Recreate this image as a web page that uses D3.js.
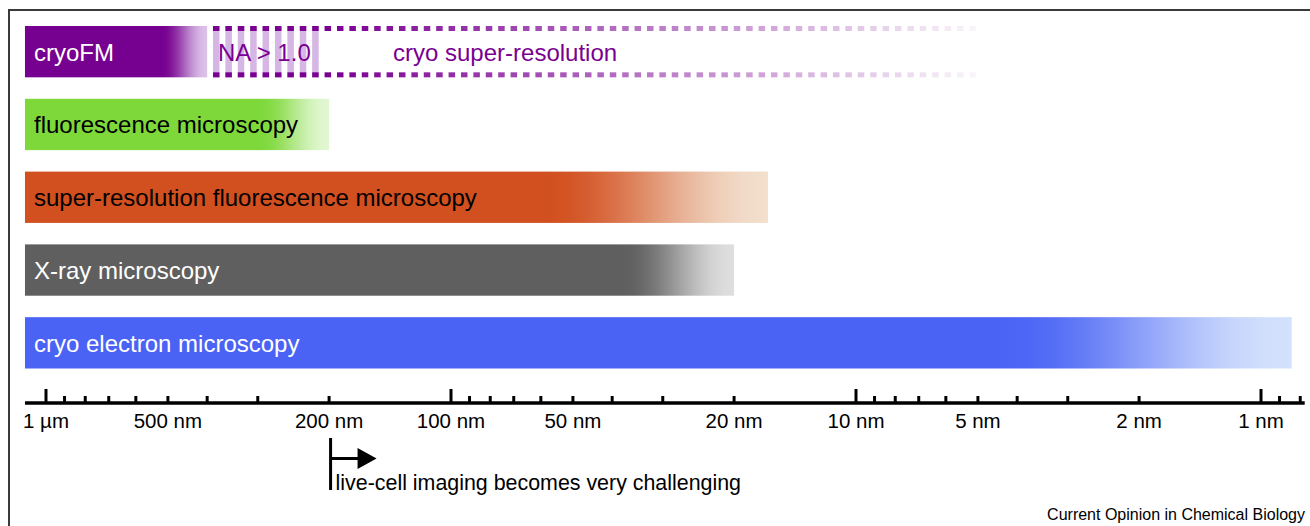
<!DOCTYPE html>
<html>
<head>
<meta charset="utf-8">
<script src="https://cdn.jsdelivr.net/npm/d3@7"></script>
<style>
  html, body { margin: 0; padding: 0; background: #fff; }
  svg { display: block; font-family: "Liberation Sans", Arial, Helvetica, sans-serif; }
</style>
</head>
<body>
<svg id="chart" width="1310" height="526"></svg>
<script>
// ---- data (lengths in nm) ----
const techniques = ["cryoFM", "fluorescence microscopy", "super-resolution fluorescence microscopy", "X-ray microscopy", "cryo electron microscopy"];
const resolutionLimit = [400, 200, 16.5, 20, 0.84];   // where each bar ends
const fadeStart = [520, 300, 60, 38, 4.5];             // where the colour begins to fade
const barColors = ["#76008f", "#7ed83a", "#d24f1f", "#5f5f5f", "#4a63f5"];
const fadeColors = ["#dcc2e8", "#e2f7d2", "#f2dfcc", "#dedede", "#d3e1fc"];
const labelColors = ["#ffffff", "#000000", "#000000", "#ffffff", "#ffffff"];

const cryoSRRange = [387, 5];      // dashed "cryo super-resolution" region
const naRange = [387, 210];        // striped "NA > 1.0" region
const axisRange = [1127, 0.78];
const majorTicks = [1000, 100, 10, 1];
const minorTicks = [900, 800, 700, 600, 500, 400, 300, 200,
                    90, 80, 70, 60, 50, 40, 30, 20,
                    9, 8, 7, 6, 5, 4, 3, 2, 0.9, 0.8];
const tickLabelValues = [1000, 500, 200, 100, 50, 20, 10, 5, 2, 1];
const tickLabels = ["1 µm", "500 nm", "200 nm", "100 nm", "50 nm", "20 nm", "10 nm", "5 nm", "2 nm", "1 nm"];
const liveCellLimit = 200;

const svg = d3.select("#chart");
const x = d3.scaleLog().domain([1000, 1]).range([46, 1261]);
const y = d3.scaleBand().domain(techniques).range([26, 368.5]).paddingInner(0.295).paddingOuter(0);

// frame
svg.append("path").attr("d", "M9,526V10H1310").attr("fill", "none").attr("stroke", "#3a3a3a").attr("stroke-width", 2);

const defs = svg.append("defs");
techniques.forEach((t, i) => {
  const g = defs.append("linearGradient").attr("id", "grad" + i)
    .attr("gradientUnits", "userSpaceOnUse")
    .attr("x1", x(fadeStart[i])).attr("x2", x(resolutionLimit[i]))
    .attr("y1", 0).attr("y2", 0);
  const interp = d3.interpolateRgb(barColors[i], fadeColors[i]);
  d3.range(0, 1.0001, 0.1).forEach(t => {
    g.append("stop").attr("offset", t).attr("stop-color", interp(d3.easeSinInOut(t)));
  });
});

// bars
svg.selectAll("rect.bar").data(techniques).enter().append("rect")
  .attr("class", "bar")
  .attr("x", x(axisRange[0]))
  .attr("y", d => y(d))
  .attr("width", (d, i) => x(resolutionLimit[i]) - x(axisRange[0]))
  .attr("height", y.bandwidth())
  .attr("fill", (d, i) => "url(#grad" + i + ")");

svg.selectAll("text.barlabel").data(techniques).enter().append("text")
  .attr("class", "barlabel")
  .attr("x", 34)
  .attr("y", d => y(d) + y.bandwidth() / 2 + 9)
  .attr("font-size", 24)
  .attr("fill", (d, i) => labelColors[i])
  .text(d => d);

// cryo super-resolution dashed region
const y0 = y(techniques[0]);
const bh = y.bandwidth();
const step = 12.4, sq = 6.5;
const x0 = x(cryoSRRange[0]), x1 = x(cryoSRRange[1]);
const naEnd = x(naRange[1]);
const cols = d3.range(x0, x1, step);
// stripes
svg.selectAll("rect.stripe").data(cols.filter(c => c + sq <= naEnd + 1)).enter().append("rect")
  .attr("x", d => d).attr("y", y0).attr("width", sq).attr("height", bh)
  .attr("fill", "#d6b6e4");
const fadeOpacity = d3.scaleLinear().domain([330, x1]).range([1, 0.03]).clamp(true);
[y0, y0 + bh - 5].forEach(yy => {
  svg.selectAll(null).data(cols).enter().append("rect")
    .attr("x", d => d).attr("y", yy).attr("width", sq).attr("height", 5)
    .attr("fill", "#7a0092")
    .attr("fill-opacity", d => fadeOpacity(d));
});
svg.append("text").attr("x", 218).attr("y", y0 + bh / 2 + 9).attr("font-size", 24)
  .attr("fill", "#7a0092").text("NA > 1.0");
svg.append("text").attr("x", 393).attr("y", y0 + bh / 2 + 9).attr("font-size", 24)
  .attr("fill", "#7a0092").text("cryo super-resolution");

// axis
const axisY = 403;
svg.append("line").attr("x1", x(axisRange[0])).attr("x2", x(axisRange[1]))
  .attr("y1", axisY).attr("y2", axisY).attr("stroke", "#000").attr("stroke-width", 3.5);
svg.selectAll("line.major").data(majorTicks).enter().append("line")
  .attr("x1", d => x(d)).attr("x2", d => x(d)).attr("y1", 389).attr("y2", axisY)
  .attr("stroke", "#000").attr("stroke-width", 3);
svg.selectAll("line.minor").data(minorTicks).enter().append("line")
  .attr("x1", d => x(d)).attr("x2", d => x(d)).attr("y1", 396).attr("y2", axisY)
  .attr("stroke", "#000").attr("stroke-width", 3);
svg.selectAll("text.tick").data(tickLabelValues).enter().append("text")
  .attr("x", d => x(d)).attr("y", 428).attr("text-anchor", "middle")
  .attr("font-size", 20.5).attr("fill", "#000")
  .text((d, i) => tickLabels[i]);

// live-cell annotation
const ax = x(liveCellLimit) + 1.5;
svg.append("line").attr("x1", ax).attr("x2", ax).attr("y1", 438).attr("y2", 490)
  .attr("stroke", "#000").attr("stroke-width", 3);
svg.append("line").attr("x1", ax).attr("x2", ax + 28).attr("y1", 458.5).attr("y2", 458.5)
  .attr("stroke", "#000").attr("stroke-width", 3);
svg.append("path").attr("d", `M${ax + 27},448L${ax + 46},458.5L${ax + 27},469Z`).attr("fill", "#000");
svg.append("text").attr("x", ax + 5).attr("y", 490).attr("font-size", 21.4).attr("fill", "#000")
  .text("live-cell imaging becomes very challenging");

// credit
svg.append("text").attr("x", 1305).attr("y", 520).attr("text-anchor", "end")
  .attr("font-size", 16).attr("fill", "#000").text("Current Opinion in Chemical Biology");
</script>
</body>
</html>
